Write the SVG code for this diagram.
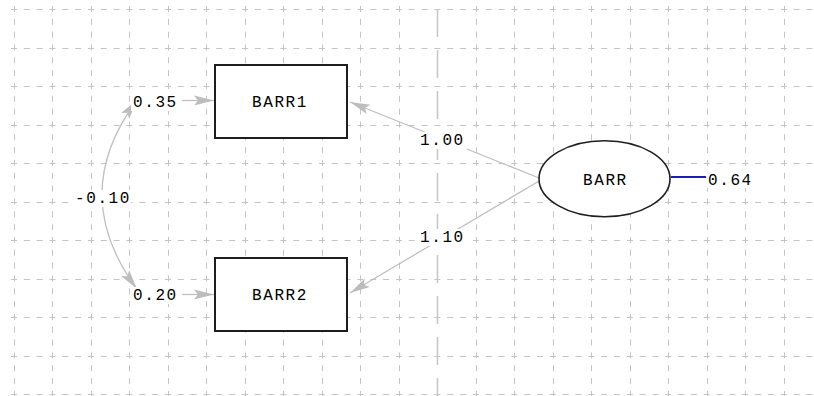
<svg xmlns="http://www.w3.org/2000/svg" width="814" height="396" viewBox="0 0 814 396">
<style>
.grid line{stroke:#c4c4c4;stroke-width:1;stroke-dasharray:6 6.83;fill:none}
.grid line.center{stroke:#c8c8c8;stroke-width:1.6;stroke-dasharray:28 13}
.conn{stroke:#c0c0c0;stroke-width:1.3;fill:none}
.box{fill:#ffffff;stroke:#1e1e1e;stroke-width:2}
.t{font-family:"Liberation Mono","DejaVu Sans Mono",monospace;font-size:16px;letter-spacing:1.6px;fill:#000000}
.bg{fill:#ffffff}
</style>
<defs>
<marker id="ah" markerUnits="userSpaceOnUse" markerWidth="24" markerHeight="14" viewBox="-22 -7 24 14" refX="0" refY="0" orient="auto-start-reverse">
<path d="M0,0 L-20,-5 L-16,0 L-20,5 z" fill="#bdbdbd"/>
</marker>
</defs>
<rect width="814" height="396" fill="#ffffff"/>
<g class="grid" id="grid">
<line x1="11" y1="9.5" x2="814" y2="9.5"/>
<line x1="11" y1="48.5" x2="814" y2="48.5"/>
<line x1="11" y1="86.5" x2="814" y2="86.5"/>
<line x1="11" y1="125.5" x2="814" y2="125.5"/>
<line x1="11" y1="163.5" x2="814" y2="163.5"/>
<line x1="11" y1="202.5" x2="814" y2="202.5"/>
<line x1="11" y1="240.5" x2="814" y2="240.5"/>
<line x1="11" y1="279.5" x2="814" y2="279.5"/>
<line x1="11" y1="317.5" x2="814" y2="317.5"/>
<line x1="11" y1="356.5" x2="814" y2="356.5"/>
<line x1="11" y1="394.5" x2="814" y2="394.5"/>
<line x1="14.5" y1="6" x2="14.5" y2="396"/>
<line x1="52.5" y1="6" x2="52.5" y2="396"/>
<line x1="91.5" y1="6" x2="91.5" y2="396"/>
<line x1="129.5" y1="6" x2="129.5" y2="396"/>
<line x1="168.5" y1="6" x2="168.5" y2="396"/>
<line x1="206.5" y1="6" x2="206.5" y2="396"/>
<line x1="245.5" y1="6" x2="245.5" y2="396"/>
<line x1="283.5" y1="6" x2="283.5" y2="396"/>
<line x1="322.5" y1="6" x2="322.5" y2="396"/>
<line x1="360.5" y1="6" x2="360.5" y2="396"/>
<line x1="399.5" y1="6" x2="399.5" y2="396"/>
<line class="center" x1="437.5" y1="9" x2="437.5" y2="396"/>
<line x1="476.5" y1="6" x2="476.5" y2="396"/>
<line x1="514.5" y1="6" x2="514.5" y2="396"/>
<line x1="553.5" y1="6" x2="553.5" y2="396"/>
<line x1="591.5" y1="6" x2="591.5" y2="396"/>
<line x1="630.5" y1="6" x2="630.5" y2="396"/>
<line x1="668.5" y1="6" x2="668.5" y2="396"/>
<line x1="707.5" y1="6" x2="707.5" y2="396"/>
<line x1="745.5" y1="6" x2="745.5" y2="396"/>
<line x1="784.5" y1="6" x2="784.5" y2="396"/>
</g>
<g id="connectors">
<line class="conn" x1="539" y1="178" x2="350" y2="102" marker-end="url(#ah)"/>
<line class="conn" x1="539" y1="181" x2="350" y2="293" marker-end="url(#ah)"/>
<line class="conn" x1="182" y1="100.5" x2="214" y2="100.5" marker-end="url(#ah)"/>
<line class="conn" x1="182" y1="294.5" x2="214" y2="294.5" marker-end="url(#ah)"/>
<path class="conn" d="M137,100 Q67,194.5 137,289" marker-start="url(#ah)" marker-end="url(#ah)"/>
<line x1="671" y1="177" x2="706" y2="177" stroke="#1c1cb8" stroke-width="2"/>
<rect class="bg" x="418" y="132" width="49" height="17"/>
<text class="t" x="420" y="145">1.00</text>
<rect class="bg" x="418" y="229" width="49" height="17"/>
<text class="t" x="420" y="242">1.10</text>
<rect class="bg" x="131" y="94" width="49" height="17"/>
<text class="t" x="133" y="107">0.35</text>
<rect class="bg" x="131" y="287" width="49" height="17"/>
<text class="t" x="133" y="300">0.20</text>
<rect class="bg" x="73" y="190" width="58" height="17"/>
<text class="t" x="75" y="203">-0.10</text>
<rect class="bg" x="706" y="171" width="50" height="17"/>
<text class="t" x="708" y="185">0.64</text>
</g>
<g id="BARR1">
<rect class="box" x="215" y="65" width="132" height="73"/>
<text class="t" x="252" y="107">BARR1</text>
</g>
<g id="BARR2">
<rect class="box" x="215" y="258" width="132" height="73"/>
<text class="t" x="252" y="300">BARR2</text>
</g>
<g id="BARR">
<ellipse cx="604.5" cy="178.7" rx="65.5" ry="38" fill="#ffffff" stroke="#1e1e1e" stroke-width="1.6"/>
<text class="t" x="583" y="185">BARR</text>
</g>
</svg>
